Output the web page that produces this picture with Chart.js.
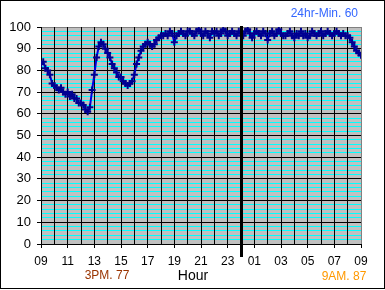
<!DOCTYPE html>
<html>
<head>
<meta charset="utf-8">
<script src="https://cdn.jsdelivr.net/npm/chart.js@4"></script>
<style>
html,body{margin:0;padding:0;background:#fff;}
canvas{display:block;}
</style>
</head>
<body>
<canvas id="c" width="385" height="290"></canvas>
<script>
// ---- data ----
const startHour = 9;          // series starts 09:00
const stepMinutes = 10;       // one reading every 10 minutes
const humidity = [
  83, 84, 81, 80, 78, 74,
  73, 72, 71, 72, 70, 69,
  70, 68, 69, 67, 67, 65,
  65, 64, 62, 61, 63, 71,
  78, 86, 91, 93, 92, 90,
  88, 86, 83, 81, 79, 77,
  77, 75, 74, 73, 74, 75,
  78, 83, 86, 89, 91, 92,
  93, 92, 91, 92, 94, 95,
  96, 96, 97, 96, 98, 97, 93,
  96, 97, 98, 97, 96, 98,
  98, 97, 96, 98, 99, 97,
  96, 98, 97, 95, 98, 97,
  98, 96, 97, 99, 98, 96,
  97, 98, 97, 96, 98, 97,
  96, 98, 99, 97, 95, 97,
  98, 97, 96, 98, 97, 94,
  97, 98, 96, 97, 99, 97,
  96, 96, 97, 98, 96, 95,
  97, 96, 98, 96, 97, 95,
  96, 98, 97, 96, 97, 98,
  96, 97, 98, 97, 96, 97,
  98, 97, 96, 97, 96,
  96, 95, 93, 91, 89, 88, 87
];
const xTickLabels = ['09','11','13','15','17','19','21','23','01','03','05','07','09'];
const yMin = 0, yMax = 100;
const midnightOffset = 15;    // hours after 09:00
const titleText = '24hr-Min. 60';
const axisTitle = 'Hour';
const note3pm = '3PM. 77';
const note9am = '9AM. 87';

const points = humidity.map((v, i) => ({ x: i * stepMinutes / 60, y: v }));

const FONT = '"Liberation Sans", Arial, sans-serif';

const decor = {
  id: 'decor',
  beforeDraw(chart) {
    const { ctx, chartArea: a } = chart;
    ctx.save();
    ctx.fillStyle = '#fff';
    ctx.fillRect(0, 0, chart.width, chart.height);
    ctx.fillStyle = '#C0C0C0';
    ctx.fillRect(a.left, a.top, a.right - a.left, a.bottom - a.top);
    ctx.restore();
  },
  afterDatasetsDraw(chart) {
    const { ctx, chartArea: a, scales } = chart;
    const x = Math.round(scales.x.getPixelForValue(midnightOffset));
    ctx.save();
    ctx.fillStyle = '#000';
    ctx.fillRect(x - 1, a.top - 1, 3, 258 - a.top);
    ctx.restore();
  },
  afterDraw(chart) {
    const { ctx } = chart;
    ctx.save();
    ctx.strokeStyle = '#000';
    ctx.lineWidth = 1;
    ctx.strokeRect(0.5, 0.5, chart.width - 1, chart.height - 2);
    ctx.textBaseline = 'middle';
    ctx.textAlign = 'right';
    ctx.fillStyle = '#3366FF';
    ctx.font = '12px ' + FONT;
    ctx.fillText(titleText, 358, 14);
    ctx.textAlign = 'center';
    ctx.fillStyle = '#000';
    ctx.font = '14px ' + FONT;
    ctx.fillText(axisTitle, 193, 276);
    ctx.fillStyle = '#993300';
    ctx.font = '12px ' + FONT;
    ctx.fillText(note3pm, 107, 276);
    ctx.fillStyle = '#FF9900';
    ctx.fillText(note9am, 344, 277);
    ctx.restore();
  }
};

new Chart(document.getElementById('c'), {
  type: 'line',
  data: {
    datasets: [{
      data: points,
      borderColor: '#0000E0',
      borderWidth: 2,
      tension: 0,
      pointStyle: 'cross',
      pointRadius: 3.5,
      pointBorderColor: '#000090',
      pointBorderWidth: 2,
      pointBackgroundColor: '#000090'
    }]
  },
  options: {
    responsive: false,
    animation: false,
    events: [],
    layout: { padding: { top: 27, right: 24, left: 0, bottom: 0 } },
    plugins: { legend: { display: false }, tooltip: { enabled: false }, title: { display: false } },
    scales: {
      y: {
        type: 'linear',
        min: yMin, max: yMax,
        afterFit(s) { s.width = 41; },
        border: { display: true, color: '#000', width: 1 },
        grid: {
          color: c => c.tick.value === yMax ? '#808080' : (c.tick.value % 10 === 0 ? '#000' : '#00FFFF'),
          tickColor: c => c.tick.value % 10 === 0 ? '#000' : 'rgba(0,0,0,0)',
          tickLength: 4,
          lineWidth: 1
        },
        ticks: {
          stepSize: 2,
          autoSkip: false,
          padding: 6,
          color: '#000',
          font: { family: FONT, size: 13 },
          callback: v => (v % 10 === 0 ? String(v) : '')
        }
      },
      x: {
        type: 'linear',
        min: 0, max: 24,
        afterFit(s) { s.height = 46; },
        border: { display: true, color: '#000', width: 1 },
        grid: {
          color: c => c.tick.value === 24 ? '#808080' : '#000',
          tickColor: c => c.tick.value % 2 === 0 ? '#000' : 'rgba(0,0,0,0)',
          tickLength: 4,
          lineWidth: 1
        },
        ticks: {
          stepSize: 1,
          autoSkip: false,
          maxRotation: 0,
          padding: 6,
          color: '#000',
          font: { family: FONT, size: 12 },
          callback: v => (v % 2 === 0 ? xTickLabels[v / 2] : '')
        }
      }
    }
  },
  plugins: [decor]
});
</script>
</body>
</html>
